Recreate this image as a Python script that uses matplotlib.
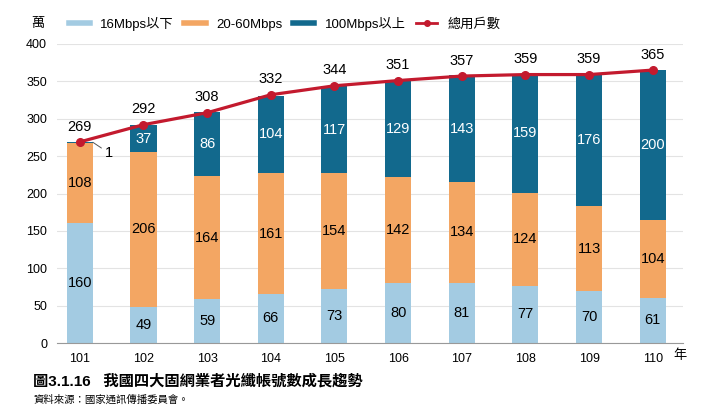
import matplotlib.pyplot as plt
from matplotlib.lines import Line2D
import numpy as np

plt.rcParams['font.family'] = ['Liberation Sans', 'Noto Sans CJK TC', 'DejaVu Sans']

years = ['101', '102', '103', '104', '105', '106', '107', '108', '109', '110']
low = [160, 49, 59, 66, 73, 80, 81, 77, 70, 61]
mid = [108, 206, 164, 161, 154, 142, 134, 124, 113, 104]
high = [1, 37, 86, 104, 117, 129, 143, 159, 176, 200]
total = [269, 292, 308, 332, 344, 351, 357, 359, 359, 365]

c_low = '#a3cbe2'
c_mid = '#f3a663'
c_high = '#12698d'
c_line = '#c31a2e'

fig = plt.figure(figsize=(7.2, 4.18), dpi=100)
ax = fig.add_axes([0.079, 0.179, 0.87, 0.716])

x = np.arange(len(years))
w = 0.41
low_a = np.array(low)
mid_a = np.array(mid)
high_a = np.array(high)

ax.bar(x, low_a, w, color=c_low, zorder=2)
ax.bar(x, mid_a, w, bottom=low_a, color=c_mid, zorder=2)
ax.bar(x, high_a, w, bottom=low_a + mid_a, color=c_high, zorder=2)
ax.plot(x, total, color=c_line, lw=2.3, marker='o', ms=5.5, zorder=4)

fs = 10.5
# segment labels
for i in range(len(x)):
    ax.text(x[i], low_a[i] / 2, str(low[i]), ha='center', va='center', fontsize=fs, color='black', zorder=5)
    ax.text(x[i], low_a[i] + mid_a[i] / 2, str(mid[i]), ha='center', va='center', fontsize=fs, color='black', zorder=5)
    if high[i] > 5:
        ax.text(x[i], low_a[i] + mid_a[i] + high_a[i] / 2, str(high[i]), ha='center', va='center',
                fontsize=fs, color='white', zorder=5)
    ax.annotate(str(total[i]), (x[i], total[i]), xytext=(0, 6), textcoords='offset points',
                ha='center', va='bottom', fontsize=fs, zorder=5)

# tiny segment for 101
top0 = low_a[0] + mid_a[0] + high_a[0]
ax.annotate(str(high[0]), xy=(x[0] + w / 2, top0 - 0.5), xytext=(9, -8), textcoords='offset points',
            ha='left', va='center', fontsize=fs,
            arrowprops=dict(arrowstyle='-', color='#555555', lw=0.7, shrinkA=1, shrinkB=0))

ax.set_xlim(-0.36, 9.48)
ax.set_ylim(0, 400)
ax.set_yticks(range(0, 401, 50))
ax.set_xticks(x)
ax.set_xticklabels(years)
ax.tick_params(length=0, labelsize=9, pad=7)
ax.grid(axis='y', color='#e3e3e3', lw=0.8, zorder=0)
for s in ['top', 'right', 'left']:
    ax.spines[s].set_visible(False)
ax.spines['bottom'].set_color('#999999')
ax.spines['bottom'].set_zorder(3)

handles = [
    Line2D([0], [0], color=c_low, lw=4),
    Line2D([0], [0], color=c_mid, lw=4),
    Line2D([0], [0], color=c_high, lw=4),
    Line2D([0], [0], color=c_line, lw=2, marker='o', ms=4),
]
labels = ['16Mbps以下', '20-60Mbps', '100Mbps以上', '總用戶數']
fig.legend(handles, labels, loc='center left', bbox_to_anchor=(0.088, 0.943), ncol=4, frameon=False,
           fontsize=9.5, handlelength=1.6, handletextpad=0.8, columnspacing=0.8, borderaxespad=0)

fig.text(38 / 720, 0.943, '萬', ha='center', va='center', fontsize=9.5)
fig.text(680 / 720, 1 - 356 / 418, '年', ha='center', va='center', fontsize=9.5)
fig.text(33 / 720, 1 - 381 / 418, '圖3.1.16   我國四大固網業者光纖帳號數成長趨勢', ha='left', va='center',
         fontsize=11, fontweight='bold')
fig.text(33 / 720, 1 - 400 / 418, '資料來源：國家通訊傳播委員會。', ha='left', va='center', fontsize=7.5)

fig.savefig('out.png', dpi=100)
